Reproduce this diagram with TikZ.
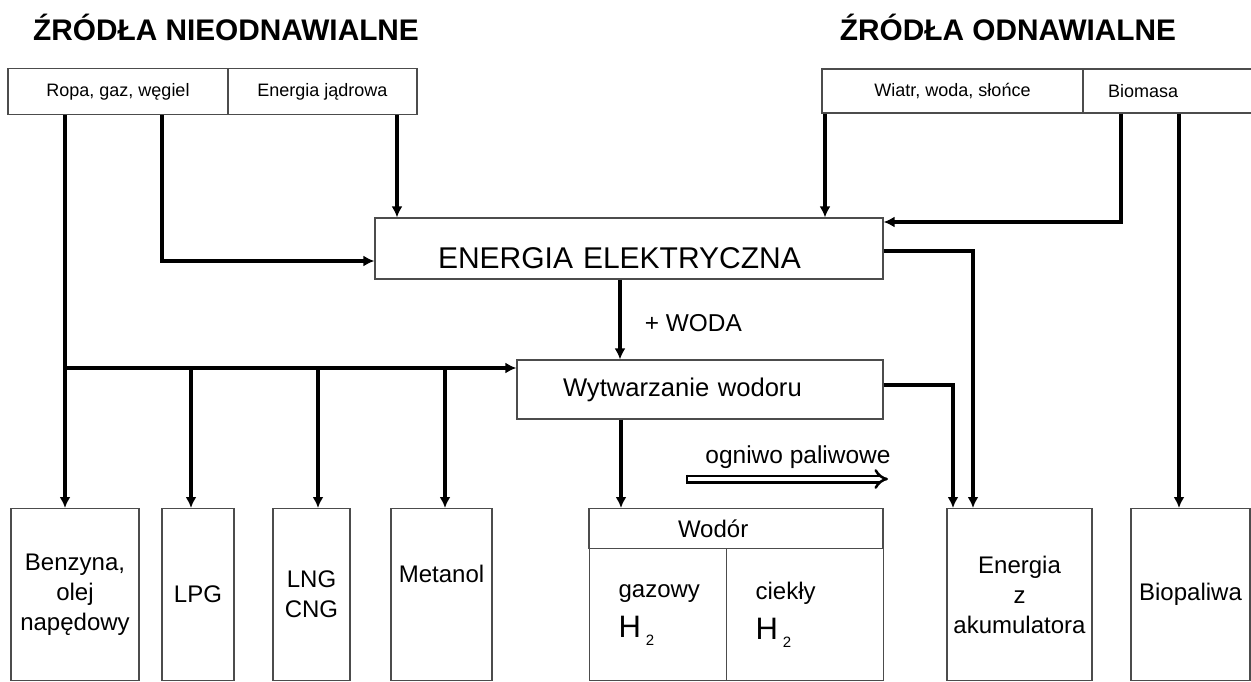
\documentclass[tikz,border=0pt]{standalone}
\usepackage{fontspec}
\setmainfont{Liberation Sans}
\usetikzlibrary{arrows.meta,positioning}

\tikzset{
  title/.style={font=\fontsize{29.8}{32}\selectfont\bfseries},
  srcbox/.style={draw=black!70, line width=1.2pt, inner sep=0pt,
    minimum height=46pt, font=\fontsize{18}{20}\selectfont},
  midbox/.style={draw=black!70, line width=1.2pt, inner ysep=0pt, align=left},
  botbox/.style={draw=black!70, line width=1.2pt, inner sep=0pt, anchor=north,
    minimum height=172pt, align=center, font=\fontsize{24}{30}\selectfont},
  h2box/.style={draw=black!70, line width=1.2pt, inner ysep=0pt, inner xsep=29pt,
    anchor=north west, minimum height=132pt, align=left,
    font=\fontsize{24}{30}\selectfont},
  arr/.style={line width=3.2pt, -{Latex[length=11pt,width=11pt]}},
  fuelarr/.style={double, double distance=4pt, line width=2.5pt,
    -{Implies[length=9pt,width=22pt]}},
}

\begin{document}
\begin{tikzpicture}[x=1pt,y=-1pt]
  \clip (0,0) rectangle (1251,682);

  % titles
  \node[title] (tnon) at (226,27)  {ŹRÓDŁA NIEODNAWIALNE};
  \node[title] (tren) at (1008,27) {ŹRÓDŁA ODNAWIALNE};

  % sources
  \node[srcbox, minimum width=220pt] (ropa)  at (118,91.5)   {Ropa, gaz, węgiel};
  \node[srcbox, minimum width=189pt] (jadr)  at (322.5,91.5) {Energia jądrowa};
  \node[srcbox, minimum width=261pt, minimum height=44pt] (wiatr) at (952.5,91) {Wiatr, woda, słońce};
  \node[srcbox, minimum height=44pt, inner xsep=25pt, text width=123pt, align=left] (biom) at (1169.5,91) {Biomasa};

  % middle
  \node[midbox, inner xsep=63pt, text width=382pt, minimum height=61pt, text height=40.5pt,
    font=\fontsize{30}{32}\selectfont] (ee) at (629,248.5) {ENERGIA ELEKTRYCZNA};
  \node[midbox, inner xsep=46pt, text width=274pt, minimum height=59pt,
    font=\fontsize{25.6}{28}\selectfont] (wyt) at (700,389.5) {Wytwarzanie wodoru};

  % fuels
  \node[botbox, minimum width=128pt] (benz) at (75,508)    {Benzyna,\\olej\\napędowy};
  \node[botbox, minimum width=72pt]  (lpg)  at (198,508)   {LPG};
  \node[botbox, minimum width=77pt]  (lng)  at (311.5,508) {LNG\\CNG};
  \node[botbox, minimum width=101pt, text depth=42pt] (met) at (441.5,508) {Metanol};
  \node[botbox, minimum width=294pt, minimum height=40pt, inner xsep=89pt, text width=116pt,
    align=left] (wodor) at (736,508) {Wodór};
  \node[h2box, minimum width=137pt, text width=79pt] (gaz) at (589,548)
    {gazowy\\[10pt]{\fontsize{31}{31}\selectfont H}\hspace{5pt}\raisebox{-8pt}{\fontsize{15}{15}\selectfont 2}};
  \node[h2box, minimum width=157pt, text width=99pt] (ciek) at (726,548)
    {ciekły\\[10pt]{\fontsize{31}{31}\selectfont H}\hspace{5pt}\raisebox{-8pt}{\fontsize{15}{15}\selectfont 2}};
  \node[botbox, minimum width=145pt] (akum)   at (1019.5,508) {Energia\\z\\akumulatora};
  \node[botbox, minimum width=119pt] (biopal) at (1190.5,508) {Biopaliwa};

  \coordinate (hub) at (65,368);
  \coordinate (og1) at (688,479);
  \coordinate (og2) at (888,479);

  % connectors
  \draw[arr] (ropa.south -| 65,0) -- (benz.north -| 65,0);
  \draw[arr] (ropa.south -| 162,0) |- (ee.west |- 0,261);
  \draw[arr] (jadr.south -| 397,0) -- (ee.north -| 397,0);
  \draw[arr] (wiatr.south -| 825,0) -- (ee.north -| 825,0);
  \draw[arr] (biom.south -| 1121,0) |- (ee.east |- 0,222);
  \draw[arr] (biom.south -| 1179,0) -- (biopal.north -| 1179,0);
  \draw[arr] (ee.south -| 620,0) -- node[pos=0.55, anchor=west, xshift=20pt,
    font=\fontsize{24.4}{26}\selectfont] (woda) {+ WODA} (wyt.north -| 620,0);
  \draw[arr] (hub) -- (wyt.west |- hub);
  \foreach \x/\b in {191/lpg,318/lng,445/met}
    \draw[arr] (\x,368) -- (\b.north -| \x,0);
  \draw[arr] (wyt.south -| 621,0) -- (wodor.north -| 621,0);
  \draw[arr] (wyt.east |- 0,385) -| (akum.north -| 953,0);
  \draw[arr] (ee.east |- 0,251) -| (akum.north -| 973,0);
  \draw[fuelarr] (og1) -- node[pos=0.55, above=6pt, font=\fontsize{24.5}{26}\selectfont]
    (ogn) {ogniwo paliwowe} (og2);
  \draw[line width=2.5pt] ([xshift=-1.25pt,yshift=4.5pt]og1) -- ([xshift=-1.25pt,yshift=-4.5pt]og1);
\end{tikzpicture}
\end{document}
